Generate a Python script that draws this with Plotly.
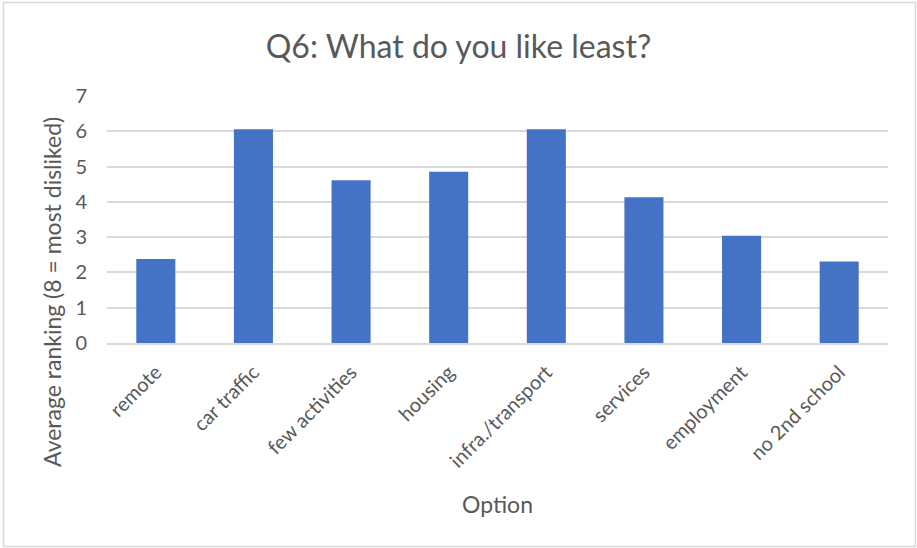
import plotly.graph_objects as go

# Survey results: average dislike ranking per option
options = ["remote", "car traffic", "few activities", "housing",
           "infra./transport", "services", "employment", "no 2nd school"]
avg_ranking = [2.38, 6.06, 4.61, 4.85, 6.06, 4.13, 3.04, 2.31]
y_ticks = [0, 1, 2, 3, 4, 5, 6, 7]

W, H = 917, 548
L, R, T, B = 107, 29, 96, 205
pw, ph = W - L - R, H - T - B

def px_x(x):
    return (x - L) / pw

def px_y(y):
    return (H - B - y) / ph

font = "Lato, 'Open Sans', sans-serif"
grey = "#595959"

fig = go.Figure(go.Bar(
    x=options, y=avg_ranking,
    marker=dict(color="#4472C4", line=dict(width=0)),
))

fig.update_layout(
    width=W, height=H,
    margin=dict(l=L, r=R, t=T, b=B),
    paper_bgcolor="white", plot_bgcolor="white",
    bargap=0.6,
    showlegend=False,
    font=dict(family=font, color=grey),
    title=dict(text="Q6: What do you like least?", x=0.5, xanchor="center",
               y=1 - 47 / H, yanchor="middle",
               font=dict(size=32, color=grey, family=font)),
    xaxis=dict(tickangle=-45, tickfont=dict(size=20, color=grey),
               showgrid=False, showline=True, linecolor="#D9D9D9", linewidth=1.5,
               ticks="", title=None, ticklabelstandoff=8),
    yaxis=dict(range=[0, 7], tickvals=y_ticks, tickfont=dict(size=20, color=grey),
               showgrid=True, gridcolor="#D9D9D9", gridwidth=1.5,
               zeroline=False, showline=False, ticks="", ticklabelstandoff=19),
    annotations=[
        dict(text="Average ranking (8 = most disliked)", textangle=-90,
             xref="paper", yref="paper", x=px_x(52), y=px_y(292),
             xanchor="center", yanchor="middle", showarrow=False,
             font=dict(size=23, color=grey, family=font)),
        dict(text="Option", xref="paper", yref="paper",
             x=0.5, y=px_y(504), xanchor="center", yanchor="middle",
             showarrow=False, font=dict(size=23, color=grey, family=font)),
    ],
    shapes=[dict(type="rect", xref="paper", yref="paper",
                 x0=px_x(3.5), x1=px_x(915.5), y0=px_y(546.5), y1=px_y(2.5),
                 line=dict(color="#D9D9D9", width=1.5), layer="below")],
)

fig.write_html("out.html")
